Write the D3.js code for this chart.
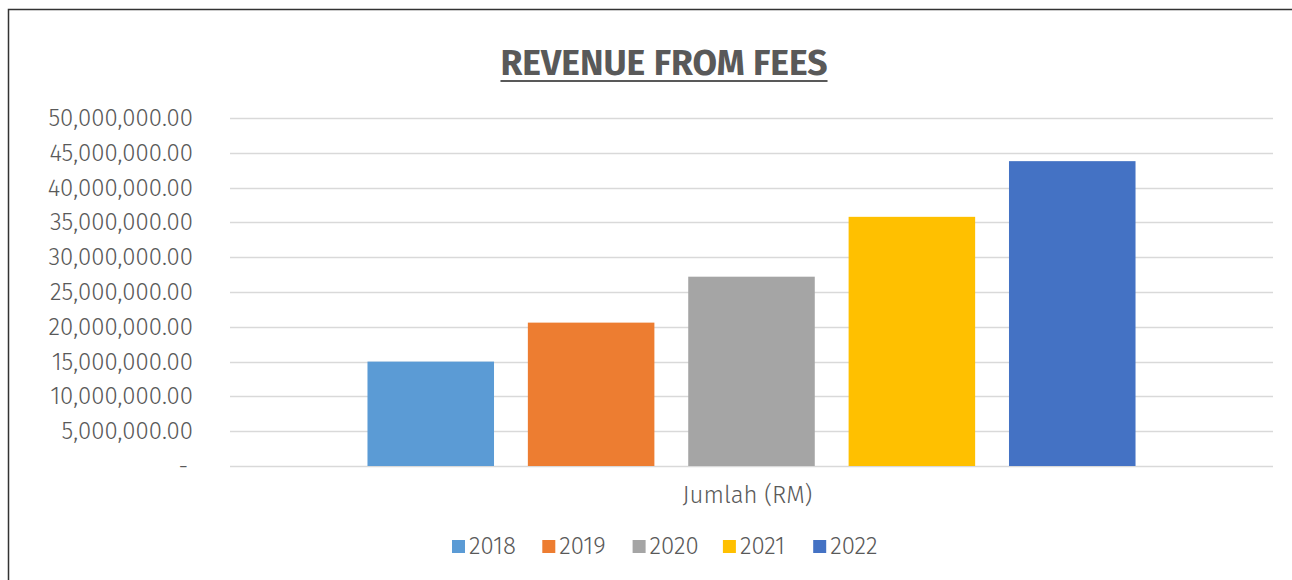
<!DOCTYPE html>
<html>
<head>
    <meta charset="utf-8">
    <title>Revenue from Fees</title>
    <script src="https://cdn.jsdelivr.net/npm/d3@7"></script>
    <style>
        body { margin: 0; background: #fff; }
    </style>
</head>
<body>
    <script type="text/javascript">
        // data
        var categories = ["Jumlah (RM)"];
        var years = ["2018", "2019", "2020", "2021", "2022"];
        var revenue = [15000000, 20600000, 27200000, 35800000, 43800000];
        var colors = ["#5b9bd5", "#ed7d31", "#a5a5a5", "#ffc000", "#4472c4"];
        var yTicks = [0, 5000000, 10000000, 15000000, 20000000, 25000000, 30000000, 35000000, 40000000, 45000000, 50000000];

        var w = 1292;
        var h = 580;
        var font = "'Fira Sans', 'Open Sans', 'Noto Sans', sans-serif";
        var grey = "#595959";

        var svg = d3.select("body")
            .append("svg")
            .attr("width", w)
            .attr("height", h);

        // outer frame (right and bottom are cut off)
        svg.append("rect")
            .attr("x", 8.5)
            .attr("y", 9.5)
            .attr("width", w + 10)
            .attr("height", h + 10)
            .attr("fill", "white")
            .attr("stroke", "#333")
            .attr("stroke-width", 1.5);

        var plotLeft = 230, plotRight = 1273, plotTop = 118, plotBottom = 466;

        var y = d3.scaleLinear()
            .domain([0, 50000000])
            .range([plotBottom, plotTop]);

        var x0 = d3.scaleBand()
            .domain(categories)
            .range([plotLeft, plotRight])
            .paddingInner(0)
            .paddingOuter(0.179);

        var x1 = d3.scaleBand()
            .domain(years)
            .range([0, x0.bandwidth()])
            .paddingInner(0.211)
            .paddingOuter(0);

        // gridlines
        svg.append("g")
            .selectAll("line")
            .data(yTicks)
            .enter()
            .append("line")
            .attr("x1", plotLeft)
            .attr("x2", plotRight)
            .attr("y1", function(d){ return Math.round(y(d)) + 0.5; })
            .attr("y2", function(d){ return Math.round(y(d)) + 0.5; })
            .attr("stroke", "#d9d9d9")
            .attr("stroke-width", 1.5);

        // y tick labels
        var fmt = d3.format(",.2f");
        svg.append("g")
            .selectAll("text")
            .data(yTicks)
            .enter()
            .append("text")
            .text(function(d){ return d === 0 ? "-" : fmt(d); })
            .attr("x", function(d){ return d === 0 ? 188 : 193; })
            .attr("y", function(d){ return y(d) + 8; })
            .attr("text-anchor", "end")
            .attr("font-family", font)
            .attr("font-size", "24px")
            .attr("font-weight", 300)
            .attr("fill", grey);

        // bars
        var group = svg.append("g")
            .attr("transform", "translate(" + x0(categories[0]) + ",0)");
        group.selectAll("rect")
            .data(revenue)
            .enter()
            .append("rect")
            .attr("x", function(d, i){ return x1(years[i]); })
            .attr("y", function(d){ return y(d); })
            .attr("width", x1.bandwidth())
            .attr("height", function(d){ return plotBottom - y(d); })
            .attr("fill", function(d, i){ return colors[i]; });

        // category label
        svg.append("text")
            .text(categories[0])
            .attr("x", x0(categories[0]) + x0.bandwidth() / 2 - 4)
            .attr("y", 503)
            .attr("text-anchor", "middle")
            .attr("font-family", font)
            .attr("font-size", "24px")
            .attr("font-weight", 300)
            .attr("fill", grey);

        // title
        var title = svg.append("text")
            .text("REVENUE FROM FEES")
            .attr("x", 664)
            .attr("y", 75)
            .attr("text-anchor", "middle")
            .attr("font-family", font)
            .attr("font-size", "35.5px")
            .attr("font-weight", "bold")
            .attr("fill", grey);
        var tb = title.node().getBBox();
        svg.append("line")
            .attr("x1", tb.x)
            .attr("x2", tb.x + tb.width)
            .attr("y1", 81)
            .attr("y2", 81)
            .attr("stroke", grey)
            .attr("stroke-width", 2);

        // legend
        var legend = svg.append("g")
            .selectAll("g")
            .data(years)
            .enter()
            .append("g")
            .attr("transform", function(d, i){ return "translate(" + (452 + i * 90.3) + ",540)"; });
        legend.append("rect")
            .attr("width", 13)
            .attr("height", 13)
            .attr("fill", function(d, i){ return colors[i]; });
        legend.append("text")
            .text(function(d){ return d; })
            .attr("x", 17)
            .attr("y", 14)
            .attr("font-family", font)
            .attr("font-size", "24px")
            .attr("font-weight", 300)
            .attr("fill", grey);
    </script>
</body>
</html>
